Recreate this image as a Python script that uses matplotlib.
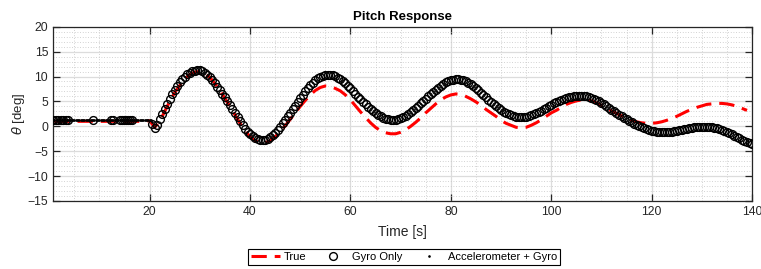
import numpy as np
import matplotlib
matplotlib.use("Agg")
import matplotlib.pyplot as plt
from matplotlib.ticker import MultipleLocator

plt.rcParams['font.family'] = ['Liberation Sans', 'DejaVu Sans']

# --- data ---
# true pitch, sampled every 1 s
true_t = np.arange(1, 140, 1)
true_deg = [
    1.0, 1.0, 1.0, 1.0, 1.0, 1.0, 1.0, 1.0, 1.0, 1.0,
    1.0, 1.0, 1.0, 1.0, 1.0, 1.0, 1.0, 1.0, 1.1, 1.1,
    -0.2, 1.0, 3.0, 5.0, 6.8, 8.2, 9.5, 10.4, 10.9, 11.0,
    10.6, 9.8, 8.6, 7.2, 5.6, 4.0, 2.3, 0.6, -0.9, -2.1,
    -2.9, -3.3, -3.3, -2.9, -2.1, -1.1, 0.1, 1.4, 2.7, 4.0,
    5.2, 6.3, 7.2, 7.8, 8.1, 8.0, 7.6, 7.1, 6.3, 5.3,
    4.1, 2.9, 1.8, 0.7, -0.2, -0.9, -1.3, -1.5, -1.5, -1.2,
    -0.7, 0.0, 0.8, 1.7, 2.7, 3.6, 4.5, 5.3, 5.9, 6.3,
    6.5, 6.4, 6.0, 5.5, 4.9, 4.2, 3.4, 2.7, 2.0, 1.2,
    0.6, 0.2, -0.2, -0.3, -0.2, 0.2, 0.7, 1.3, 2.0, 2.7,
    3.2, 3.8, 4.4, 4.8, 5.1, 5.3, 5.3, 5.1, 4.7, 4.2,
    3.6, 3.1, 2.6, 2.1, 1.6, 1.2, 0.9, 0.7, 0.6, 0.6,
    0.7, 0.9, 1.2, 1.6, 2.0, 2.5, 3.0, 3.4, 3.8, 4.1,
    4.4, 4.5, 4.6, 4.6, 4.5, 4.3, 4.0, 3.6, 3.2,
]

# gyro only: a few samples before 20 s, then every 0.5 s
gyro_t_early = [0.75, 1.25, 1.75, 2.25, 2.75, 3.25, 3.75, 8.7, 12.3, 12.7,
                14.0, 14.4, 14.8, 15.2, 15.6, 16.0, 16.4]
gyro_deg_early = [1.2, 1.2, 1.2, 1.2, 1.2, 1.2, 1.2, 1.2, 1.2, 1.2,
                  1.2, 1.2, 1.2, 1.2, 1.2, 1.2, 1.2]
gyro_t_late = np.arange(20.5, 140.01, 0.5)
gyro_deg_late = [
    0.5, -0.4, 0.3, 1.4, 2.4, 3.4, 4.4, 5.4, 6.4, 7.3,
    8.1, 8.8, 9.5, 10.0, 10.5, 10.8, 11.1, 11.2, 11.3, 11.3,
    11.1, 10.8, 10.4, 9.9, 9.3, 8.6, 7.9, 7.2, 6.5, 5.8,
    5.0, 4.3, 3.5, 2.6, 1.8, 1.0, 0.2, -0.5, -1.1, -1.6,
    -2.0, -2.4, -2.6, -2.7, -2.8, -2.7, -2.5, -2.2, -1.8, -1.3,
    -0.7, -0.1, 0.6, 1.3, 2.0, 2.7, 3.4, 4.1, 4.9, 5.6,
    6.3, 7.0, 7.6, 8.2, 8.7, 9.2, 9.6, 9.9, 10.2, 10.3,
    10.4, 10.4, 10.3, 10.1, 9.8, 9.4, 9.0, 8.6, 8.1, 7.6,
    7.0, 6.5, 5.9, 5.4, 4.9, 4.4, 3.9, 3.4, 3.0, 2.6,
    2.3, 2.0, 1.7, 1.5, 1.4, 1.3, 1.3, 1.3, 1.4, 1.6,
    1.8, 2.1, 2.4, 2.8, 3.2, 3.6, 4.1, 4.6, 5.1, 5.5,
    6.0, 6.4, 6.9, 7.3, 7.7, 8.1, 8.5, 8.8, 9.0, 9.2,
    9.3, 9.4, 9.4, 9.3, 9.2, 9.0, 8.7, 8.4, 8.0, 7.6,
    7.2, 6.7, 6.2, 5.8, 5.3, 4.8, 4.4, 4.0, 3.6, 3.2,
    2.9, 2.6, 2.4, 2.2, 2.0, 1.9, 1.9, 1.8, 1.8, 1.9,
    2.0, 2.2, 2.4, 2.6, 2.9, 3.1, 3.4, 3.7, 4.0, 4.3,
    4.6, 4.9, 5.1, 5.3, 5.5, 5.7, 5.8, 5.9, 6.0, 6.0,
    6.1, 6.1, 6.1, 6.0, 5.9, 5.7, 5.5, 5.3, 5.0, 4.7,
    4.4, 4.0, 3.7, 3.3, 3.0, 2.6, 2.3, 2.0, 1.7, 1.4,
    1.1, 0.8, 0.5, 0.3, 0.0, -0.2, -0.4, -0.6, -0.8, -0.9,
    -1.0, -1.1, -1.2, -1.2, -1.2, -1.2, -1.2, -1.1, -1.0, -0.9,
    -0.8, -0.7, -0.6, -0.5, -0.4, -0.3, -0.2, -0.2, -0.1, -0.1,
    -0.1, -0.1, -0.1, -0.2, -0.3, -0.4, -0.6, -0.8, -1.0, -1.2,
    -1.4, -1.6, -1.9, -2.1, -2.4, -2.7, -2.9, -3.1, -3.3, -3.5,
]
gyro_t = np.concatenate([gyro_t_early, gyro_t_late])
gyro_deg = np.concatenate([gyro_deg_early, gyro_deg_late])

# accelerometer + gyro, only visible before ~21 s
acc_t = np.arange(0.75, 20.51, 0.25)
acc_deg = [
    1.2, 1.2, 1.2, 1.2, 1.2, 1.2, 1.2, 1.2,
    1.2, 1.2, 1.2, 1.2, 1.2, 1.2, 1.2, 1.2,
    1.2, 1.2, 1.2, 1.2, 1.2, 1.2, 1.2, 1.2,
    1.2, 1.2, 1.2, 1.2, 1.2, 1.2, 1.2, 1.2,
    1.2, 1.2, 1.2, 1.2, 1.2, 1.2, 1.2, 1.2,
    1.2, 1.2, 1.2, 1.2, 1.2, 1.2, 1.2, 1.2,
    1.2, 1.2, 1.2, 1.2, 1.25, 1.25, 1.25, 1.25,
    1.25, 1.25, 1.25, 1.25, 1.25, 1.25, 1.25, 1.25,
    1.25, 1.25, 1.25, 1.25, 1.3, 1.3, 1.3, 1.3,
    1.3, 1.3, 1.3, 1.3, 1.3, 1.3, 1.2, 0.9,
]

x_ticks = [20, 40, 60, 80, 100, 120, 140]
y_ticks = [-15, -10, -5, 0, 5, 10, 15, 20]

fig = plt.figure(figsize=(7.61, 2.69), dpi=100)
ax = fig.add_axes([0.0697, 0.2528, 0.9185, 0.6479])

ax.plot(true_t, true_deg, color='#ff0000', lw=2.2, dashes=(5, 2.6), label='True', zorder=3)
ax.plot(gyro_t, gyro_deg, ls='none', marker='o', ms=5.6, mfc='none', mec='black',
        mew=1.0, label='Gyro Only', zorder=4)
ax.plot(acc_t, acc_deg, ls='none', marker='.', ms=1.8, color='black',
        label='Accelerometer + Gyro', zorder=5)

ax.set_xlim(0.75, 140)
ax.set_ylim(-15, 20)
ax.set_xticks(x_ticks)
ax.set_yticks(y_ticks)
ax.xaxis.set_minor_locator(MultipleLocator(5))
ax.yaxis.set_minor_locator(MultipleLocator(1))

ax.grid(True, which='major', color='#dcdcdc', lw=0.9, ls='-')
ax.grid(True, which='minor', color='#c4c4c4', lw=0.6, ls=(0, (1, 2.2)))
ax.set_axisbelow(True)

ax.tick_params(which='major', direction='in', length=5, width=0.9, top=True, right=True,
               labelsize=8.8, colors='#262626')
ax.tick_params(which='minor', length=0)
for s in ax.spines.values():
    s.set_color('#262626')
    s.set_linewidth(0.9)

ax.set_title('Pitch Response', fontsize=9.5, fontweight='bold', pad=5)
ax.set_xlabel('Time [s]', fontsize=10, color='#262626', labelpad=5)
ax.set_ylabel(r'$\theta$ [deg]', fontsize=9.5, color='#262626', labelpad=0)

leg = fig.legend(loc='center', bbox_to_anchor=(0.531, 0.045), ncol=3, fontsize=8,
                 frameon=True, fancybox=False, edgecolor='black', framealpha=1,
                 handlelength=2.6, columnspacing=1.1, handletextpad=0.4,
                 borderpad=0.25, borderaxespad=0)
leg.get_frame().set_linewidth(0.8)

fig.savefig('out.png', dpi=100)
